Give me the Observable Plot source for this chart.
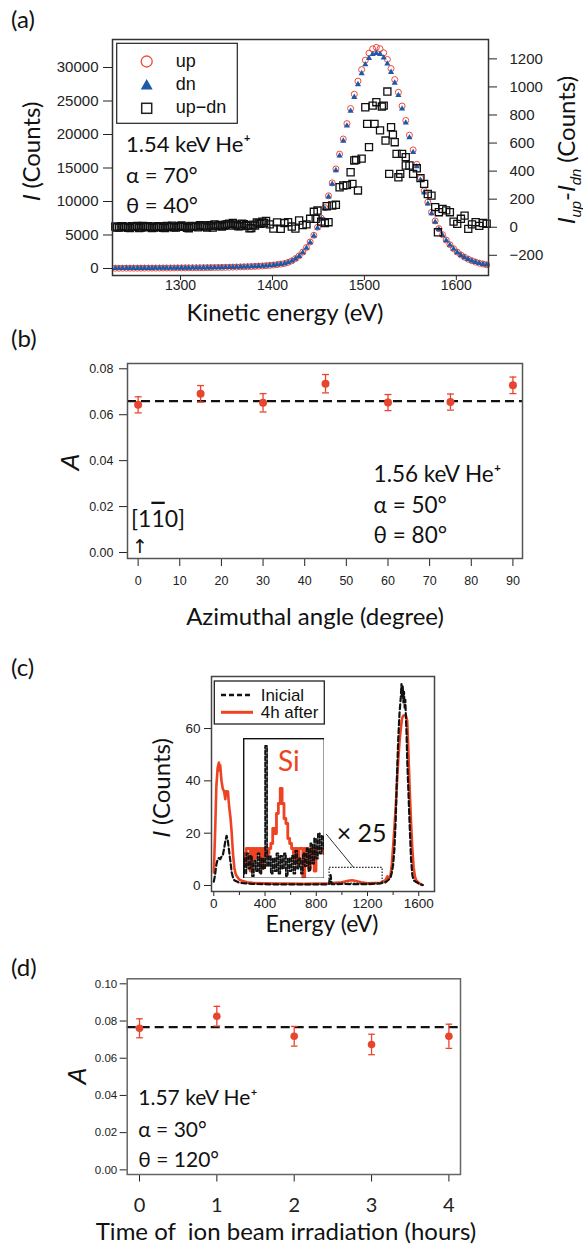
<!DOCTYPE html>
<html><head><meta charset="utf-8">
<script src="https://cdn.jsdelivr.net/npm/d3@7"></script>
<script src="https://cdn.jsdelivr.net/npm/@observablehq/plot@0.6"></script>
<style>
body{margin:0;background:#fff;}
#root{position:relative;width:583px;height:1247px;overflow:hidden;background:#fff;}
#root svg{position:absolute;}
</style></head><body><div id="root"></div>
<script>
// ---------------- Panel (a) data ----------------
const aEnergyStart = 1229, aEnergyStep = 4;
const aUp = [40,41,43,45,47,49,51,53,56,58,61,63,66,69,72,76,80,84,88,92,97,102,108,114,120,127,135,144,153,163,174,186,200,215,232,250,270,293,318,347,380,418,462,514,575,650,
 740,910,1140,1470,1900,2450,3130,3960,4960,6150,7520,9090,10850,12780,14860,17070,19330,21630,23880,26010,27970,29690,31090,32140,32780,33000,
 32800,32200,31200,29850,28200,26300,24250,22100,19900,17700,15550,13500,11600,9900,8400,7100,5950,5050,4250,3550,2950,2450,2030,1680,1390,1150,950,790,660,550];
const aDn = [40,41,43,45,47,49,51,53,56,58,61,63,66,69,72,76,80,84,88,92,97,102,108,114,120,127,135,144,153,163,174,186,200,215,232,250,270,293,318,346,378,415,458,508,567,640,
 725,890,1110,1430,1850,2390,3060,3880,4870,6050,7410,8960,10700,12600,14650,16820,19050,21300,23500,25570,27480,29120,30450,31400,31980,32150,
 32000,31450,30550,29300,27700,25850,23850,21750,19550,17350,15220,13200,11330,9660,8200,6930,5830,4960,4180,3500,2900,2410,2000,1655,1370,1135,940,780,650,545];
const aDiff = [5,-3,8,2,-6,4,10,-2,3,7,-5,1,6,-4,9,2,-1,5,12,3,-7,4,8,15,6,-3,10,20,12,5,18,25,30,15,8,22,10,-5,12,28,40,
 45,20,-10,35,-11,30,36,5,-10,48,15,20,60,110,119,40,30,36,155,160,285,297,300,392,476,262,489,855,571,867,
 891,690,867,967,713,606,356,523,500,440,380,420,350,309,237,225,143,107,131,120,107,40,24,60,83,-12,20,36,10,30,25];
const aDiffMidStart = 1231;
const aDiffMid = [-2,6,1,-4,7,3,-5,9,0,4,-3,8,2,-6,5,11,-2,7,3,-4,9,6,-1,12,4,14,-2,8,16,10,22,12,20,6,26,14,-8,18,35,24,30];
const aDiffExtraE = [1447,1459,1487,1491,1503,1511,1519,1523,1527,1531,1535,1539,1545,1580];
const aDiffExtraV = [60,150,309,480,737,737,860,618,380,660,523,380,440,-36];
const aLeftTicks = [0,5000,10000,15000,20000,25000,30000];
const aRightTicks = [-200,0,200,400,600,800,1000,1200];
const aXTicks = [1300,1400,1500,1600];

// ---------------- Panel (b) data ----------------
const bAngles = [0,15,30,45,60,75,90];
const bA = [0.0643,0.0691,0.0652,0.0735,0.0653,0.0655,0.0728];
const bErr = [0.0035,0.0036,0.0040,0.0040,0.0035,0.0035,0.0036];
const bMean = 0.0659;
const bXTicks = [0,10,20,30,40,50,60,70,80,90];
const bYTicks = [0,0.02,0.04,0.06,0.08];

// ---------------- Panel (c) data ----------------
const cInicialE = [0,10,20,30,40,50,60,70,80,90,100,110,120,130,140,150,160,180,200,250,300,400,500,600,700,800,880,900,905,912,920,1000,1100,1200,1300,1340,1360,1380,1390,1400,1410,1420,1430,1440,1450,1460,1465,1470,1475,1480,1485,1490,1495,1500,1505,1510,1520,1530,1540,1550,1560,1580,1600,1620,1630];
const cInicialI = [1.5,4,8,10,10.5,10,11,11.5,14,17,19,17,13,9,5,3,2,1.5,1,0.8,0.6,0.5,0.4,0.4,0.4,0.4,0.4,0.5,2.5,4,0.5,0.6,0.5,0.5,0.8,1.2,2,3,5,8,14,25,42,56,66,72,77,72,76,70,74,68,71,64,58,48,35,22,10,4,2,1.3,0.8,0.4,0.2];
const cAfterE = [0,10,20,30,40,45,50,60,70,80,90,95,100,110,120,130,140,150,160,170,180,200,220,260,300,400,500,600,700,800,900,1000,1050,1080,1100,1150,1200,1300,1340,1355,1365,1380,1390,1400,1410,1420,1430,1440,1450,1460,1470,1480,1490,1500,1510,1520,1530,1540,1550,1560,1570,1580,1600,1620,1630];
const cAfterI = [5,20,38,45,47,44,46,40,37,36,33,36,35,36,30,26,20,12,7,4.5,3.5,2.2,1.8,1.2,1,0.8,0.7,0.7,0.6,0.7,0.8,1.2,1.8,2,1.8,1.2,0.8,1,2,3.5,2.5,4,8,15,22,30,39,48,55,60,64,65,65,65,63,50,36,24,14,7,3.5,2,1,0.3,0.2];
const cXTicks = [0,400,800,1200,1600];
const cXMinor = [200,600,1000,1400];
const cYTicks = [0,20,40,60];
const cZoomWindow = [{e1: 904, e2: 1318, i1: 0.7, i2: 6.7}];
const cCallout = [{e1: 877, i1: 19.7, e2: 1093, i2: 6.8}];
const insetStart = 900, insetStep = 10;
const insetAfter = [10,5,12,12,3,12,8,12,10,12,4,12,9,10,12,14,20,18,26,30,36,30,24,22,16,14,12,8,12,6,12,12,0,12,12,4,10,12,3,12,12,12,12,10];
const insetInicial = [8,2,10,4,9,1,7,3,10,2,8,4,53,5,9,2,8,3,10,2,9,4,10,1,8,3,9,2,11,4,8,2,10,5,12,3,14,6,16,8,18,10,17,12];

// ---------------- Panel (d) data ----------------
const dHours = [0,1,2,3,4];
const dA = [0.0761,0.0826,0.0718,0.0674,0.0718];
const dErr = [0.0051,0.0053,0.0053,0.0055,0.0065];
const dMean = 0.0767;
const dYTicks = [0,0.02,0.04,0.06,0.08,0.10];

// ---------------- styling constants ----------------
const RED = "#e8452f", BLUE = "#1f5aa8", LINE_RED = "#ee4323";
const FONT = "Lato, 'Open Sans', sans-serif";
const LIB = "'Liberation Sans', Arial, sans-serif";
const root = document.getElementById("root");
function place(svg, top, left = 0) { svg.style.top = top + "px"; svg.style.left = left + "px"; root.appendChild(svg); return svg; }
const capSymbol = w => ({draw(ctx) { ctx.moveTo(-w, 0); ctx.lineTo(w, 0); }});
const minus = d => (d < 0 ? "\u2212" + Math.abs(d) : String(d));

// ---------------- Panel (a) ----------------
const energyA = aUp.map((_, i) => aEnergyStart + i * aEnergyStep);
const upRows = aUp.map((v, i) => ({e: energyA[i], v}));
const dnRows = aDn.map((v, i) => ({e: energyA[i], v}));
const diffRows = aDiff.map((v, i) => ({e: energyA[i], v}))
  .concat(aDiffMid.map((v, i) => ({e: aDiffMidStart + i * aEnergyStep, v})))
  .concat(aDiffExtraE.map((e, i) => ({e, v: aDiffExtraV[i]})));
const L0 = -1045, L1 = 34180, R0 = -344, R1 = 1338;
const kLR = (L1 - L0) / (R1 - R0);
const r2l = v => L0 + (v - R0) * kLR;
const l2r = v => R0 + (v - L0) / kLR;

place(Plot.plot({
  width: 583, height: 315, marginLeft: 112, marginRight: 95, marginTop: 39, marginBottom: 40,
  x: {domain: [1226, 1635]}, y: {domain: [L0, L1]},
  style: {fontFamily: LIB, fontSize: "15px", color: "#222", background: "transparent"},
  marks: [
    Plot.dot(upRows, {x: "e", y: "v", r: 3, stroke: "#f04a3a", strokeWidth: 1, fill: "none"}),
    Plot.dot(dnRows, {x: "e", y: "v", symbol: "triangle", r: 2.3, fill: BLUE, stroke: "none"}),
    Plot.dot(diffRows, {x: "e", y: d => r2l(d.v), symbol: "square", r: 4, stroke: "#111", strokeWidth: 1.3, fill: "none"}),
    Plot.axisY(aLeftTicks, {anchor: "left", tickSize: 9, tickPadding: 5, label: null, tickFormat: d => String(d)}),
    Plot.axisY(aRightTicks.map(r2l), {anchor: "right", tickSize: 8, tickPadding: 13, label: null, tickFormat: d => minus(Math.round(l2r(d)))}),
    Plot.axisX(aXTicks, {anchor: "bottom", tickSize: 5, tickPadding: 0, label: null, fontSize: 14, tickFormat: d => String(d)}),
    Plot.frame({stroke: "#333", strokeWidth: 1.5})
  ]
}), 0);

// ---------------- Panel (b) ----------------
const bRows = bAngles.map((a, i) => ({a, v: bA[i], e: bErr[i]}));
place(Plot.plot({
  width: 583, height: 260, marginLeft: 127, marginRight: 61, marginTop: 23, marginBottom: 42,
  x: {domain: [-2.55, 92.3]}, y: {domain: [-0.0026, 0.0823]},
  style: {fontFamily: LIB, fontSize: "12.5px", color: "#222", background: "transparent"},
  marks: [
    Plot.ruleY([bMean], {stroke: "#111", strokeWidth: 2.3, strokeDasharray: "9,5"}),
    Plot.ruleX(bRows, {x: "a", y1: d => d.v - d.e, y2: d => d.v + d.e, stroke: RED, strokeWidth: 1.3}),
    Plot.dot(bRows, {x: "a", y: d => d.v + d.e, symbol: capSymbol(3.5), stroke: RED, fill: "none", strokeWidth: 1.3}),
    Plot.dot(bRows, {x: "a", y: d => d.v - d.e, symbol: capSymbol(3.5), stroke: RED, fill: "none", strokeWidth: 1.3}),
    Plot.dot(bRows, {x: "a", y: "v", r: 4, fill: RED}),
    Plot.axisY(bYTicks, {anchor: "left", tickSize: 8, tickPadding: 6, label: null, tickFormat: d3.format(".2f")}),
    Plot.axisX(bXTicks, {anchor: "bottom", tickSize: 8, tickPadding: 10, label: null, tickFormat: d => String(d)}),
    Plot.frame({stroke: "#555", strokeWidth: 1.5})
  ]
}), 340);

// ---------------- Panel (c) ----------------
const inicialRows = cInicialE.map((e, i) => ({e, v: cInicialI[i]}));
const afterRows = cAfterE.map((e, i) => ({e, v: cAfterI[i]}));
place(Plot.plot({
  width: 583, height: 290, marginLeft: 211, marginRight: 149, marginTop: 26, marginBottom: 49,
  x: {domain: [-18, 1723]}, y: {domain: [-2.3, 79.9]},
  style: {fontFamily: LIB, fontSize: "13.5px", color: "#222", background: "transparent"},
  marks: [
    Plot.line(afterRows, {x: "e", y: "v", stroke: LINE_RED, strokeWidth: 2.6}),
    Plot.line(inicialRows, {x: "e", y: "v", stroke: "#111", strokeWidth: 2.2, strokeDasharray: "5,3"}),
    Plot.rect(cZoomWindow, {x1: "e1", x2: "e2", y1: "i1", y2: "i2", fill: "none", stroke: "#222", strokeWidth: 1.2, strokeDasharray: "1.5,1.5"}),
    Plot.link(cCallout, {x1: "e1", y1: "i1", x2: "e2", y2: "i2", stroke: "#333", strokeWidth: 1}),
    Plot.axisY(cYTicks, {anchor: "left", tickSize: 7, tickPadding: 4, label: null, tickFormat: d => String(d)}),
    Plot.axisX(cXTicks, {anchor: "bottom", tickSize: 5, tickPadding: 2, label: null, tickFormat: d => String(d)}),
    Plot.axisX(cXMinor, {anchor: "bottom", tickSize: 4, label: null, tickFormat: () => ""}),
    Plot.frame({stroke: "#444", strokeWidth: 1.5})
  ]
}), 650);

// inset (x25 magnified window)
const insetAfterRows = insetAfter.map((v, i) => ({e: insetStart + i * insetStep, v}));
const insetInicialRows = insetInicial.map((v, i) => ({e: insetStart + i * insetStep, v}));
place(Plot.plot({
  width: 81, height: 140, margin: 0,
  x: {domain: [900, 1330], axis: null}, y: {domain: [0, 56], axis: null},
  style: {background: "white"},
  marks: [
    Plot.line(insetAfterRows, {x: "e", y: "v", curve: "step", stroke: LINE_RED, strokeWidth: 2.8}),
    Plot.line(insetInicialRows, {x: "e", y: "v", curve: "step", stroke: "#111", strokeWidth: 1.8, strokeDasharray: "4,2"}),
    Plot.frame({stroke: "#111", strokeWidth: 1.8})
  ]
}), 738, 242.7);

// ---------------- Panel (d) ----------------
const dRows = dHours.map((h, i) => ({h, v: dA[i], e: dErr[i]}));
place(Plot.plot({
  width: 583, height: 260, marginLeft: 126.7, marginRight: 123, marginTop: 18.3, marginBottom: 46,
  x: {domain: [-0.159, 4.15]}, y: {domain: [-0.0025, 0.1027]},
  style: {fontFamily: LIB, fontSize: "11.5px", color: "#222", background: "transparent"},
  marks: [
    Plot.ruleY([dMean], {stroke: "#111", strokeWidth: 2.3, strokeDasharray: "9,5"}),
    Plot.ruleX(dRows, {x: "h", y1: d => d.v - d.e, y2: d => d.v + d.e, stroke: RED, strokeWidth: 1.3}),
    Plot.dot(dRows, {x: "h", y: d => d.v + d.e, symbol: capSymbol(3.3), stroke: RED, fill: "none", strokeWidth: 1.3}),
    Plot.dot(dRows, {x: "h", y: d => d.v - d.e, symbol: capSymbol(3.3), stroke: RED, fill: "none", strokeWidth: 1.3}),
    Plot.dot(dRows, {x: "h", y: "v", r: 3.8, fill: RED}),
    Plot.axisY(dYTicks, {anchor: "left", tickSize: 7, tickPadding: 3, label: null, tickFormat: d3.format(".2f")}),
    Plot.axisX(dHours, {anchor: "bottom", tickSize: 7.5, tickPadding: 16, label: null, fontFamily: FONT, fontSize: 20, tickFormat: d => String(d)}),
    Plot.frame({stroke: "#666", strokeWidth: 1.5})
  ]
}), 960);

// ---------------- overlay: titles, annotations, legends ----------------
const ov = d3.select(root).append("svg").attr("width", 583).attr("height", 1247)
  .style("top", "0px").style("left", "0px").style("pointer-events", "none");

function T(x, y, parts, o = {}) {
  const size = o.size || 22;
  const t = ov.append("text").attr("x", x).attr("y", y)
    .attr("font-family", o.family || FONT).attr("font-size", size)
    .attr("fill", o.fill || "#111").attr("text-anchor", o.anchor || "start")
    .attr("xml:space", "preserve").style("white-space", "pre");
  if (o.rotate) t.attr("transform", `rotate(${o.rotate},${x},${y})`);
  if (typeof parts === "string") parts = [{t: parts}];
  let shifted = 0;
  for (const p of parts) {
    const ts = t.append("tspan").text(p.t);
    if (p.it) ts.attr("font-style", "italic");
    if (p.fam) ts.attr("font-family", p.fam);
    if (p.over) ts.style("text-decoration", "overline");
    if (p.sub) {
      const s = size * 0.24;
      ts.attr("font-size", size * 0.62).attr("dy", s - shifted);
      shifted = s;
    } else if (shifted) {
      ts.attr("dy", -shifted);
      shifted = 0;
    }
  }
  return t;
}

// panel letters
T(11, 28, "(a)", {size: 24});
T(11, 347, "(b)", {size: 24});
T(11, 676, "(c)", {size: 24});
T(11, 976, "(d)", {size: 24});

// (a)
T(40, 151.5, [{t: "I", it: true, fam: LIB}, {t: " (Counts)"}], {size: 24, anchor: "middle", rotate: -90});
T(575, 150, [{t: "I", it: true, fam: LIB}, {t: "up", it: true, sub: true, fam: LIB}, {t: "-"}, {t: "I", it: true, fam: LIB}, {t: "dn", it: true, sub: true, fam: LIB}, {t: " (Counts)"}], {size: 24, anchor: "middle", rotate: -90});
T(285, 321, "Kinetic energy (eV)", {size: 24, anchor: "middle"});
T(126, 151.7, "1.54 keV He\u207A", {size: 22});
T(126, 182.7, "\u03B1 = 70\u00B0", {size: 22});
T(126, 213.3, "\u03B8 = 40\u00B0", {size: 22});
ov.append("rect").attr("x", 116.7).attr("y", 43.3).attr("width", 120.6).attr("height", 80)
  .attr("fill", "white").attr("stroke", "#222").attr("stroke-width", 1.2);
ov.append("circle").attr("cx", 146.7).attr("cy", 61.5).attr("r", 5.5)
  .attr("fill", "none").attr("stroke", "#f04a3a").attr("stroke-width", 1.3);
ov.append("path").attr("d", d3.symbol(d3.symbolTriangle, 62)()).attr("transform", "translate(146.7,86)").attr("fill", BLUE);
ov.append("rect").attr("x", 141.7).attr("y", 103.3).attr("width", 10).attr("height", 10)
  .attr("fill", "none").attr("stroke", "#222").attr("stroke-width", 1.5);
T(175.7, 67, "up", {size: 18, family: LIB});
T(175.7, 90, "dn", {size: 18, family: LIB});
T(175.7, 113, "up\u2212dn", {size: 18, family: LIB});

// (b)
T(79, 462, [{t: "A", it: true, fam: LIB}], {size: 25, anchor: "middle", rotate: -90});
T(315, 625, "Azimuthal angle (degree)", {size: 24, anchor: "middle"});
T(373.6, 481.7, "1.56 keV He\u207A", {size: 22.5});
T(373.6, 512.7, "\u03B1 = 50\u00B0", {size: 22.5});
T(373.6, 543.3, "\u03B8 = 80\u00B0", {size: 22.5});
T(131, 526.7, [{t: "[1"}, {t: "1", over: true}, {t: "0]"}], {size: 23});
T(140, 553, "\u2191", {size: 19, anchor: "middle", family: "'DejaVu Sans', sans-serif"});

// (c)
T(170, 788, [{t: "I", it: true, fam: LIB}, {t: " (Counts)"}], {size: 24, anchor: "middle", rotate: -90});
T(322, 932, "Energy (eV)", {size: 23, anchor: "middle"});
ov.append("rect").attr("x", 214.3).attr("y", 681).attr("width", 110).attr("height", 43)
  .attr("fill", "white").attr("stroke", "#222").attr("stroke-width", 1.3);
ov.append("line").attr("x1", 221).attr("x2", 253).attr("y1", 695).attr("y2", 695)
  .attr("stroke", "#111").attr("stroke-width", 2.5).attr("stroke-dasharray", "5,3");
ov.append("line").attr("x1", 221).attr("x2", 253).attr("y1", 712.3).attr("y2", 712.3)
  .attr("stroke", LINE_RED).attr("stroke-width", 3);
T(260.7, 701, "Inicial", {size: 17, family: LIB});
T(260.7, 718, "4h after", {size: 17, family: LIB});
T(278, 771, "Si", {size: 28, fill: LINE_RED});
T(336.7, 841.7, "\u00D7 25", {size: 25});

// (d)
T(86, 1076, [{t: "A", it: true, fam: LIB}], {size: 25, anchor: "middle", rotate: -90});
T(286, 1240, "Time of  ion beam irradiation (hours)", {size: 24, anchor: "middle"});
T(138.3, 1105, "1.57 keV He\u207A", {size: 21});
T(138.3, 1136.7, "\u03B1 = 30\u00B0", {size: 21});
T(138.3, 1166.7, "\u03B8 = 120\u00B0", {size: 21});
</script></body></html>
